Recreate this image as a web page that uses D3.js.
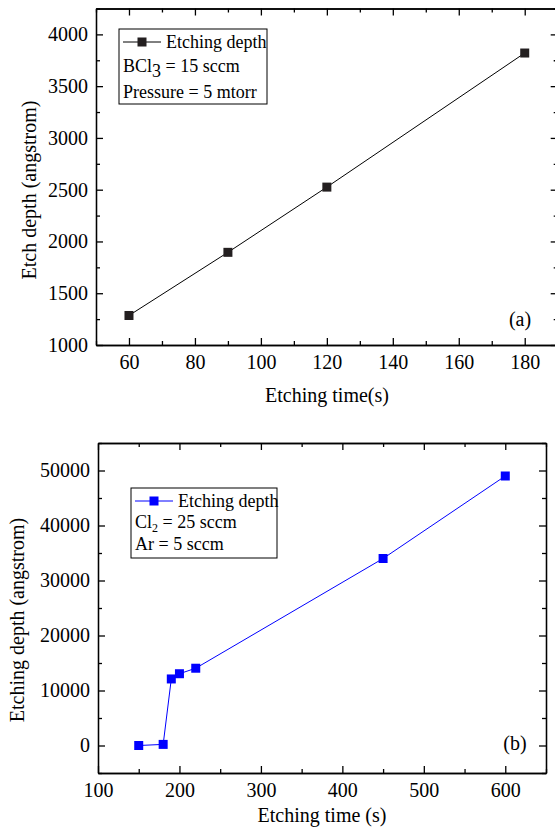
<!DOCTYPE html>
<html>
<head>
<meta charset="utf-8">
<script src="https://cdn.jsdelivr.net/npm/d3@7"></script>
<style>
    body { margin: 0; background: #fff; }
    .axis path, .axis line { stroke: #000; stroke-width: 1.3px; }
</style>
</head>
<body>
<svg id="chart" width="555" height="830"></svg>
<script>
// Panel (a): BCl3 etching
const timeA = [60, 90, 120, 180];
const depthA = [1285, 1895, 2525, 3820];
const xTicksA = [60, 80, 100, 120, 140, 160, 180];
const yTicksA = [1000, 1500, 2000, 2500, 3000, 3500, 4000];

// Panel (b): Cl2/Ar etching
const timeB = [150, 180, 190, 200, 220, 450, 600];
const depthB = [0, 200, 12100, 13050, 14050, 34000, 49000];
const xTicksB = [100, 200, 300, 400, 500, 600];
const yTicksB = [0, 10000, 20000, 30000, 40000, 50000];

const FONT = "'Liberation Serif', 'Times New Roman', 'DejaVu Serif', serif";

const svg = d3.select("#chart");

function minorTicks(ticks, domain) {
    // midpoints between major ticks, plus one either side if inside domain
    let step = ticks[1] - ticks[0];
    let out = [];
    for (let v = ticks[0] - step / 2; v <= domain[1]; v += step) {
        if (v >= domain[0]) out.push(v);
    }
    return out;
}

function styleAxis(sel) {
    sel.attr("font-family", FONT).attr("font-size", 20);
    sel.selectAll("text").attr("fill", "#000").style("font-family", FONT);
}

function drawPanel(cfg) {
    let g = svg.append("g");

    let x = d3.scaleLinear().domain(cfg.xDomain).range([cfg.left, cfg.right]);
    let y = d3.scaleLinear().domain(cfg.yDomain).range([cfg.bottom, cfg.top]);

    let xMinor = minorTicks(cfg.xTicks, cfg.xDomain);
    let yMinor = minorTicks(cfg.yTicks, cfg.yDomain);

    // bottom axis, ticks pointing in
    g.append("g").attr("class", "axis")
        .attr("transform", `translate(0,${cfg.bottom})`)
        .call(d3.axisBottom(x).tickValues(cfg.xTicks).tickSizeInner(-7).tickSizeOuter(0).tickPadding(10).tickFormat(d3.format("d")))
        .call(styleAxis);
    g.append("g").attr("class", "axis")
        .attr("transform", `translate(0,${cfg.bottom})`)
        .call(d3.axisBottom(x).tickValues(xMinor).tickSizeInner(-4).tickSizeOuter(0).tickFormat(""));

    // top axis
    g.append("g").attr("class", "axis")
        .attr("transform", `translate(0,${cfg.top})`)
        .call(d3.axisTop(x).tickValues(cfg.xTicks).tickSizeInner(-7).tickSizeOuter(0).tickFormat(""));
    g.append("g").attr("class", "axis")
        .attr("transform", `translate(0,${cfg.top})`)
        .call(d3.axisTop(x).tickValues(xMinor).tickSizeInner(-4).tickSizeOuter(0).tickFormat(""));

    // left axis
    g.append("g").attr("class", "axis")
        .attr("transform", `translate(${cfg.left},0)`)
        .call(d3.axisLeft(y).tickValues(cfg.yTicks).tickSizeInner(-7).tickSizeOuter(0).tickPadding(8).tickFormat(d3.format("d")))
        .call(styleAxis);
    g.append("g").attr("class", "axis")
        .attr("transform", `translate(${cfg.left},0)`)
        .call(d3.axisLeft(y).tickValues(yMinor).tickSizeInner(-4).tickSizeOuter(0).tickFormat(""));

    // right axis
    g.append("g").attr("class", "axis")
        .attr("transform", `translate(${cfg.right},0)`)
        .call(d3.axisRight(y).tickValues(cfg.yTicks).tickSizeInner(-7).tickSizeOuter(0).tickFormat(""));
    g.append("g").attr("class", "axis")
        .attr("transform", `translate(${cfg.right},0)`)
        .call(d3.axisRight(y).tickValues(yMinor).tickSizeInner(-4).tickSizeOuter(0).tickFormat(""));

    // data line and square markers
    let pts = cfg.xs.map((d, i) => ({ x: d, y: cfg.ys[i] }));
    g.append("path")
        .datum(pts)
        .attr("fill", "none")
        .attr("stroke", cfg.color)
        .attr("stroke-width", 1)
        .attr("d", d3.line().x(d => x(d.x)).y(d => y(d.y)));

    g.selectAll(".mark")
        .data(pts)
        .enter()
        .append("rect")
        .attr("class", "mark")
        .attr("x", d => x(d.x) - cfg.size / 2)
        .attr("y", d => y(d.y) - cfg.size / 2)
        .attr("width", cfg.size)
        .attr("height", cfg.size)
        .attr("fill", cfg.markFill);

    // axis titles
    g.append("text")
        .attr("x", cfg.xLabelPos[0])
        .attr("y", cfg.xLabelPos[1])
        .attr("text-anchor", "middle")
        .style("font-family", FONT)
        .style("font-size", "20px")
        .text(cfg.xLabel);

    g.append("text")
        .attr("transform", `translate(${cfg.yLabelPos[0]},${cfg.yLabelPos[1]}) rotate(-90)`)
        .attr("text-anchor", "middle")
        .style("font-family", FONT)
        .style("font-size", "20px")
        .text(cfg.yLabel);

    // panel tag
    g.append("text")
        .attr("x", cfg.tagPos[0])
        .attr("y", cfg.tagPos[1])
        .attr("text-anchor", "middle")
        .style("font-family", FONT)
        .style("font-size", "20px")
        .text(cfg.tag);

    // legend box
    let lg = g.append("g").attr("transform", `translate(${cfg.legend.x},${cfg.legend.y})`);
    lg.append("rect")
        .attr("width", cfg.legend.w)
        .attr("height", cfg.legend.h)
        .attr("fill", "#fff")
        .attr("stroke", "#000")
        .attr("stroke-width", 1);
    lg.append("line")
        .attr("x1", 4).attr("x2", 42)
        .attr("y1", 13).attr("y2", 13)
        .attr("stroke", cfg.color).attr("stroke-width", 1);
    lg.append("rect")
        .attr("x", 23 - cfg.size / 2).attr("y", 13 - cfg.size / 2)
        .attr("width", cfg.size).attr("height", cfg.size)
        .attr("fill", cfg.markFill);
    lg.append("text")
        .attr("x", 47).attr("y", 19)
        .style("font-family", FONT)
        .style("font-size", "18px")
        .text(cfg.legend.name);

    cfg.legend.lines.forEach((row, i) => {
        let t = lg.append("text")
            .attr("x", 4)
            .attr("y", cfg.legend.rowY[i])
            .style("font-family", FONT)
            .style("font-size", "18px");
        row.forEach(part => {
            let s = t.append("tspan").text(part.t);
            if (part.sub) s.attr("baseline-shift", "-30%").style("font-size", part.subSize || "16px");
        });
    });
}

drawPanel({
    xs: timeA, ys: depthA,
    xTicks: xTicksA, yTicks: yTicksA,
    xDomain: [50, 190], yDomain: [1000, 4250],
    left: 96, right: 557.7, top: 8.5, bottom: 345,
    color: "#000", markFill: "#231f20", size: 9,
    xLabel: "Etching time(s)", xLabelPos: [327, 402],
    yLabel: "Etch depth (angstrom)", yLabelPos: [36, 190],
    tag: "(a)", tagPos: [520, 326],
    legend: {
        x: 119, y: 29, w: 148, h: 75, name: "Etching depth",
        rowY: [43, 69],
        lines: [
            [{ t: "BCl" }, { t: "3", sub: true, subSize: "18px" }, { t: " = 15 sccm" }],
            [{ t: "Pressure = 5 mtorr" }]
        ]
    }
});

drawPanel({
    xs: timeB, ys: depthB,
    xTicks: xTicksB, yTicks: yTicksB,
    xDomain: [100, 650], yDomain: [-5000, 55000],
    left: 98, right: 546, top: 443, bottom: 773,
    color: "#0000ff", markFill: "#0000ff", size: 9,
    xLabel: "Etching time (s)", xLabelPos: [322, 822],
    yLabel: "Etching depth (angstrom)", yLabelPos: [24, 620],
    tag: "(b)", tagPos: [515, 750],
    legend: {
        x: 131, y: 488, w: 146, h: 70, name: "Etching depth",
        rowY: [40, 62],
        lines: [
            [{ t: "Cl" }, { t: "2", sub: true, subSize: "12px" }, { t: " = 25 sccm" }],
            [{ t: "Ar = 5 sccm" }]
        ]
    }
});
</script>
</body>
</html>
